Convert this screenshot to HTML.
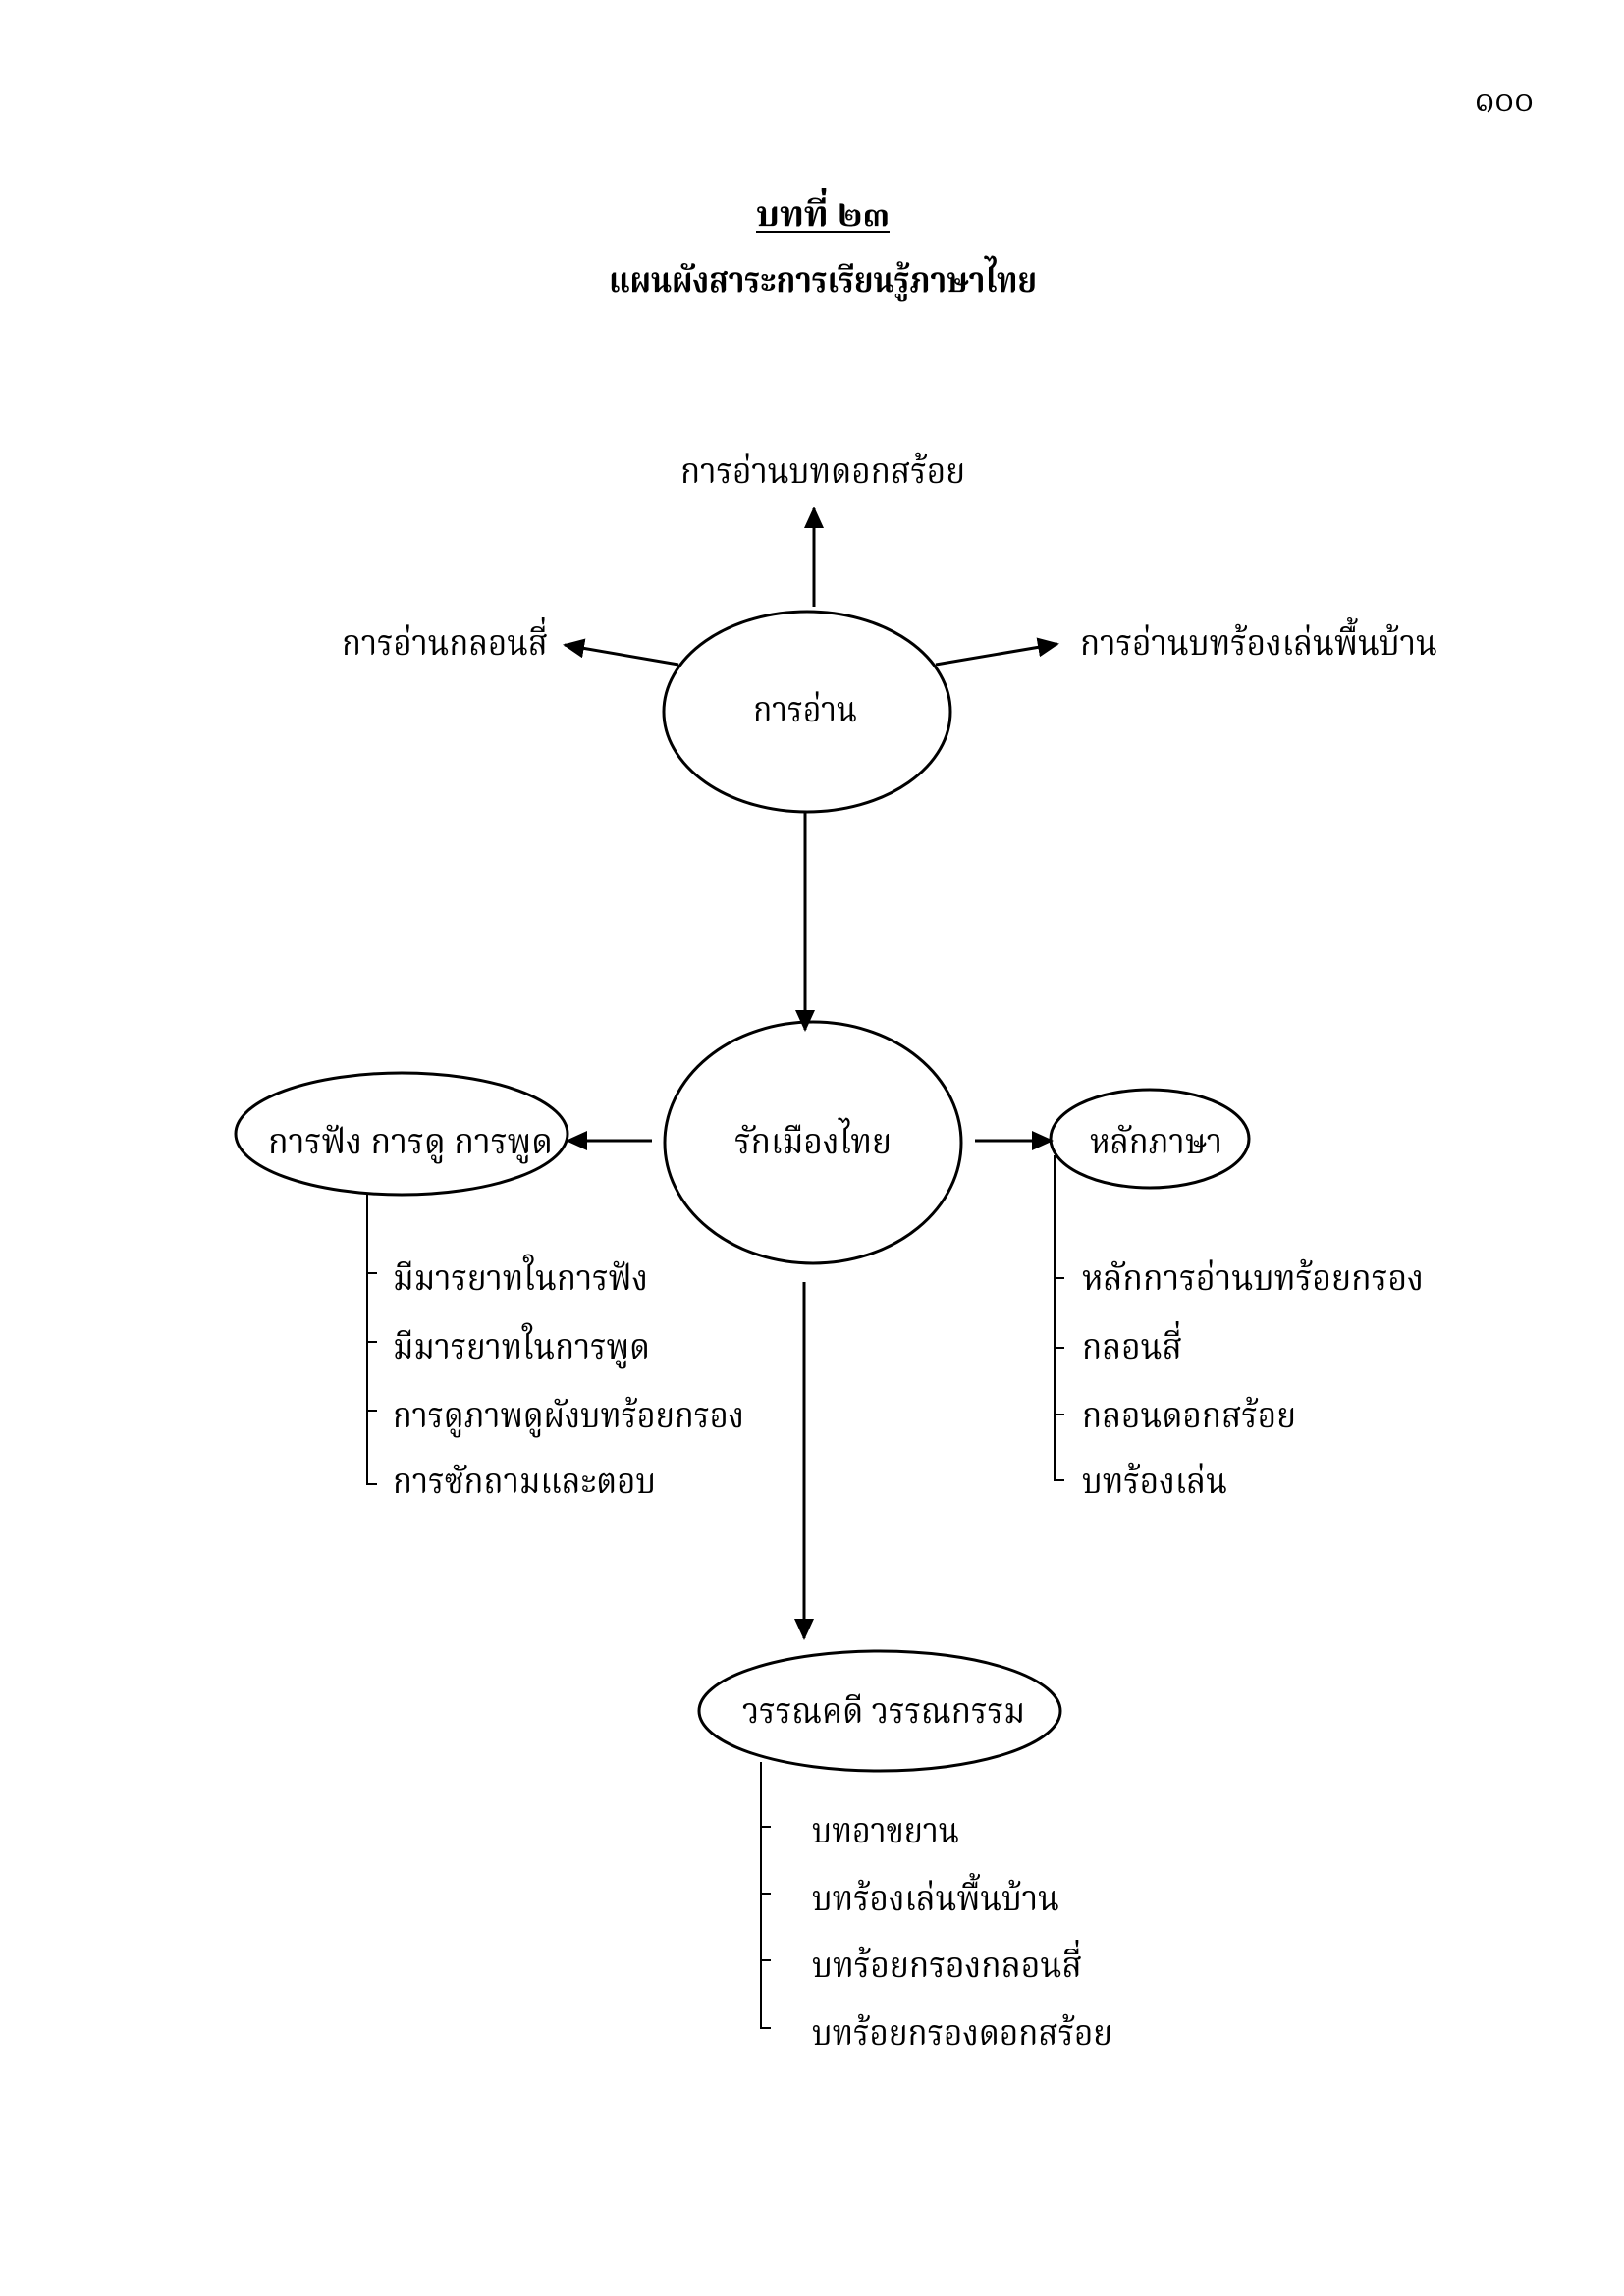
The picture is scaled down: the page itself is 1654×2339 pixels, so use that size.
<!DOCTYPE html>
<html><head><meta charset="utf-8"><style>
html,body{margin:0;padding:0;background:#fff}
svg{display:block}
text{font-family:"Liberation Serif","Noto Serif Thai","Noto Sans Thai","Garuda","Loma","Norasi",serif;font-size:36px;fill:#000}
</style></head><body>
<svg width="1654" height="2339" viewBox="0 0 1654 2339" xmlns="http://www.w3.org/2000/svg">
<defs>
<marker id="b" markerWidth="22" markerHeight="20" refX="20" refY="10" orient="auto" markerUnits="userSpaceOnUse"><path d="M0,0 L22,10 L0,20 z" fill="#000"/></marker></defs>
<g fill="none" stroke="#000" stroke-width="3">
<ellipse cx="822" cy="725" rx="146" ry="102"/>
<ellipse cx="828" cy="1164" rx="151" ry="123"/>
<ellipse cx="409" cy="1155" rx="169" ry="62"/>
<ellipse cx="1171" cy="1160" rx="101" ry="50"/>
<ellipse cx="896" cy="1743" rx="184" ry="61"/>
<line x1="829" y1="618" x2="829" y2="518" marker-end="url(#b)"/>
<line x1="691" y1="677" x2="575" y2="657" marker-end="url(#b)"/>
<line x1="953" y1="677" x2="1077" y2="656" marker-end="url(#b)"/>
<line x1="820" y1="827" x2="820" y2="1049" marker-end="url(#b)"/>
<line x1="664" y1="1162" x2="578" y2="1162" marker-end="url(#b)"/>
<line x1="993" y1="1162" x2="1071" y2="1162" marker-end="url(#b)"/>
<line x1="819" y1="1306" x2="819" y2="1669" marker-end="url(#b)"/>
</g>
<g fill="none" stroke="#000" stroke-width="2">
<path d="M374 1217 V1512 H384"/><path d="M374 1297 H384 M374 1367 H384 M374 1437 H384"/>
<path d="M1074 1177 V1508 H1084"/><path d="M1074 1302 H1084 M1074 1373 H1084 M1074 1441 H1084"/>
<path d="M775 1795 V2066 H785"/><path d="M775 1861 H785 M775 1929 H785 M775 1997 H785"/>
</g>
<text x="1532" y="113" text-anchor="middle" font-size="32" textLength="60" lengthAdjust="spacingAndGlyphs">๑๐๐</text>
<text x="838" y="230" text-anchor="middle" font-weight="bold" font-size="34" textLength="136" lengthAdjust="spacingAndGlyphs">บทที่ ๒๓</text>
<line x1="770" y1="236" x2="906" y2="236" stroke="#000" stroke-width="2"/>
<text x="838" y="297" text-anchor="middle" font-weight="bold" font-size="34" textLength="436" lengthAdjust="spacingAndGlyphs">แผนผังสาระการเรียนรู้ภาษาไทย</text>
<text x="838" y="492" text-anchor="middle" textLength="290" lengthAdjust="spacingAndGlyphs">การอ่านบทดอกสร้อย</text>
<text x="348" y="667" textLength="210" lengthAdjust="spacingAndGlyphs">การอ่านกลอนสี่</text>
<text x="1100" y="667" textLength="364" lengthAdjust="spacingAndGlyphs">การอ่านบทร้องเล่นพื้นบ้าน</text>
<text x="820" y="735" text-anchor="middle" textLength="106" lengthAdjust="spacingAndGlyphs">การอ่าน</text>
<text x="828" y="1175" text-anchor="middle" textLength="160" lengthAdjust="spacingAndGlyphs">รักเมืองไทย</text>
<text x="273" y="1175" textLength="290" lengthAdjust="spacingAndGlyphs">การฟัง การดู การพูด</text>
<text x="1110" y="1175" textLength="135" lengthAdjust="spacingAndGlyphs">หลักภาษา</text>
<text x="400" y="1314" textLength="260" lengthAdjust="spacingAndGlyphs">มีมารยาทในการฟัง</text>
<text x="400" y="1384" textLength="262" lengthAdjust="spacingAndGlyphs">มีมารยาทในการพูด</text>
<text x="400" y="1454" textLength="358" lengthAdjust="spacingAndGlyphs">การดูภาพดูผังบทร้อยกรอง</text>
<text x="400" y="1521" textLength="268" lengthAdjust="spacingAndGlyphs">การซักถามและตอบ</text>
<text x="1102" y="1314" textLength="348" lengthAdjust="spacingAndGlyphs">หลักการอ่านบทร้อยกรอง</text>
<text x="1102" y="1384" textLength="102" lengthAdjust="spacingAndGlyphs">กลอนสี่</text>
<text x="1102" y="1454" textLength="218" lengthAdjust="spacingAndGlyphs">กลอนดอกสร้อย</text>
<text x="1102" y="1521" textLength="148" lengthAdjust="spacingAndGlyphs">บทร้องเล่น</text>
<text x="756" y="1755" textLength="288" lengthAdjust="spacingAndGlyphs">วรรณคดี วรรณกรรม</text>
<text x="827" y="1877" textLength="150" lengthAdjust="spacingAndGlyphs">บทอาขยาน</text>
<text x="827" y="1946" textLength="252" lengthAdjust="spacingAndGlyphs">บทร้องเล่นพื้นบ้าน</text>
<text x="827" y="2014" textLength="275" lengthAdjust="spacingAndGlyphs">บทร้อยกรองกลอนสี่</text>
<text x="827" y="2083" textLength="306" lengthAdjust="spacingAndGlyphs">บทร้อยกรองดอกสร้อย</text>
</svg>
</body></html>
